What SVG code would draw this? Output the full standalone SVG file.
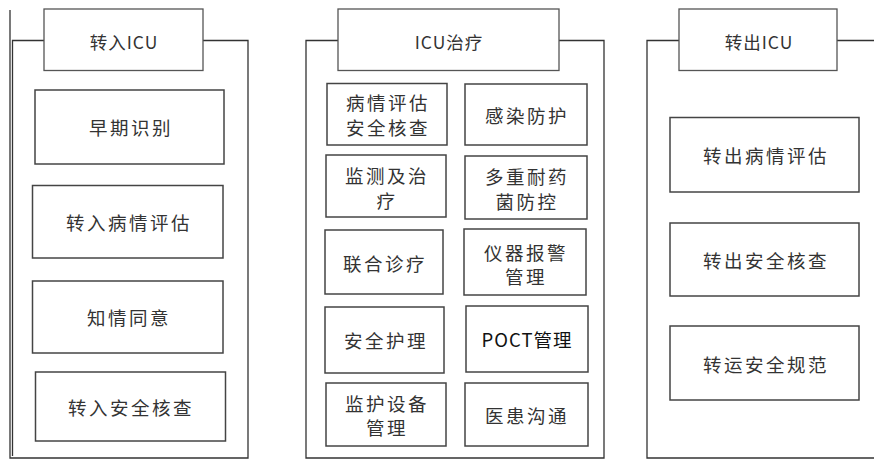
<svg xmlns="http://www.w3.org/2000/svg" width="874" height="460" viewBox="0 0 874 460">
<style>
.frame{fill:none;stroke:#333;stroke-width:1.3}
.box{fill:#fff;stroke:#444;stroke-width:1.5}
.hdr{fill:#fff;stroke:#555;stroke-width:1.3}
text{font-family:"Noto Sans CJK SC","Microsoft YaHei",sans-serif;fill:#333;text-anchor:middle;dominant-baseline:central}
.t{font-size:18.5px;letter-spacing:2.5px}
.h{font-size:17.5px;letter-spacing:1px}
</style>
<rect x="0" y="0" width="874" height="460" fill="#fff"/>
<g id="connectors">
<path class="frame" d="M10 10 V458 H248 V40.5 H203"/>
<path class="frame" d="M44 40.5 H12.5 V456"/>
<path class="frame" d="M338 40.5 H306 V458 H604 V40.5 H559"/>
<path class="frame" d="M679 40.5 H647 V458 H874"/>
<path class="frame" d="M837 40.5 H874"/>
</g>
<g id="hdr-in"><rect class="hdr" x="44" y="9" width="159" height="61.5"/><text class="h" x="124" y="41">转入ICU</text></g>
<g id="hdr-mid"><rect class="hdr" x="338" y="9" width="221" height="61.5"/><text class="h" x="449" y="41">ICU治疗</text></g>
<g id="hdr-out"><rect class="hdr" x="679" y="9" width="158" height="61.5"/><text class="h" x="759" y="41">转出ICU</text></g>

<g id="n1"><rect class="box" x="35" y="90" width="189" height="74"/><text class="t" x="131" y="127">早期识别</text></g>
<g id="n2"><rect class="box" x="32.5" y="185.5" width="190.5" height="72.5"/><text class="t" x="129" y="222">转入病情评估</text></g>
<g id="n3"><rect class="box" x="32.5" y="281" width="190.5" height="72"/><text class="t" x="129" y="317">知情同意</text></g>
<g id="n4"><rect class="box" x="35.5" y="372" width="190" height="69"/><text class="t" x="131" y="407">转入安全核查</text></g>

<g id="m1"><rect class="box" x="327" y="83.5" width="120" height="61.5"/><text class="t"><tspan x="388" y="102">病情评估</tspan><tspan x="388" y="126.5">安全核查</tspan></text></g>
<g id="m2"><rect class="box" x="465" y="84" width="122" height="61"/><text class="t" x="527" y="115">感染防护</text></g>
<g id="m3"><rect class="box" x="326" y="155" width="120" height="62"/><text class="t"><tspan x="387" y="175">监测及治</tspan><tspan x="387" y="200">疗</tspan></text></g>
<g id="m4"><rect class="box" x="465" y="156" width="122" height="63"/><text class="t"><tspan x="527" y="176">多重耐药</tspan><tspan x="527" y="201">菌防控</tspan></text></g>
<g id="m5"><rect class="box" x="325" y="230" width="118" height="64"/><text class="t" x="385" y="263">联合诊疗</text></g>
<g id="m6"><rect class="box" x="464" y="229" width="122" height="66"/><text class="t"><tspan x="526" y="252">仪器报警</tspan><tspan x="526" y="276">管理</tspan></text></g>
<g id="m7"><rect class="box" x="325" y="307" width="119" height="66"/><text class="t" x="386" y="340">安全护理</text></g>
<g id="m8"><rect class="box" x="466" y="306" width="122" height="66"/><text class="t" x="527" y="339" style="letter-spacing:1px;fill:#111">POCT管理</text></g>
<g id="m9"><rect class="box" x="326" y="383" width="120" height="63"/><text class="t"><tspan x="387" y="403">监护设备</tspan><tspan x="387" y="427">管理</tspan></text></g>
<g id="m10"><rect class="box" x="465" y="383" width="123" height="63"/><text class="t" x="527" y="415">医患沟通</text></g>

<g id="o1"><rect class="box" x="670" y="117.5" width="189" height="74.5"/><text class="t" x="766" y="155">转出病情评估</text></g>
<g id="o2"><rect class="box" x="670" y="223" width="189" height="73"/><text class="t" x="766" y="260">转出安全核查</text></g>
<g id="o3"><rect class="box" x="670" y="326" width="189" height="74"/><text class="t" x="766" y="364">转运安全规范</text></g>
</svg>
